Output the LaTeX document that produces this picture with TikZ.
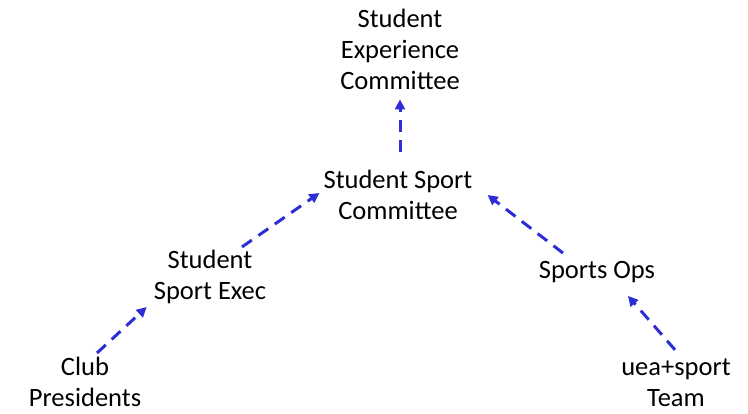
\documentclass[tikz,border=0pt]{standalone}
\usepackage{fontspec}
\setmainfont{Carlito}
\usetikzlibrary{arrows.meta,positioning}
\definecolor{arrowblue}{RGB}{45,45,215}

\begin{document}
\begin{tikzpicture}[
    x=1pt, y=1pt,
    lbl/.style={align=center, inner sep=0pt, font=\fontsize{26.5}{31}\selectfont, text=black},
    arr/.style={-{Triangle[length=10pt, width=10pt]}, line width=3pt, arrowblue, dash pattern=on 12pt off 8pt},
]
\useasboundingbox (0,0) rectangle (748,-414);
\node[lbl] (sec) at (400,-49) {Student\\Experience\\Committee};
\node[lbl] (ssc) at (398,-195) {Student Sport\\Committee};
\node[lbl] (exec) at (210,-277) {Student\\Sport Exec};
\node[lbl] (ops) at (597,-272) {Sports Ops};
\node[lbl] (club) at (85,-382) {Club\\Presidents};
\node[lbl] (team) at (676,-383) {uea+sport\\Team};

\draw[arr] ([shift={(12,4)}]club.north) -- ([shift={(-7,-3)}]exec.south west);
\draw[arr] ([shift={(32,3)}]exec.north) -- ([shift={(-4,2)}]ssc.west);
\draw[arr] ([shift={(2,18)}]ssc.north) -- ([shift={(0,-10)}]sec.south);
\draw[arr] ([shift={(-1,9)}]team.north) -- ([shift={(31,-13)}]ops.south);
\draw[arr] ([shift={(-34,8)}]ops.north) -- ([shift={(15,0)}]ssc.east);
\end{tikzpicture}
\end{document}
